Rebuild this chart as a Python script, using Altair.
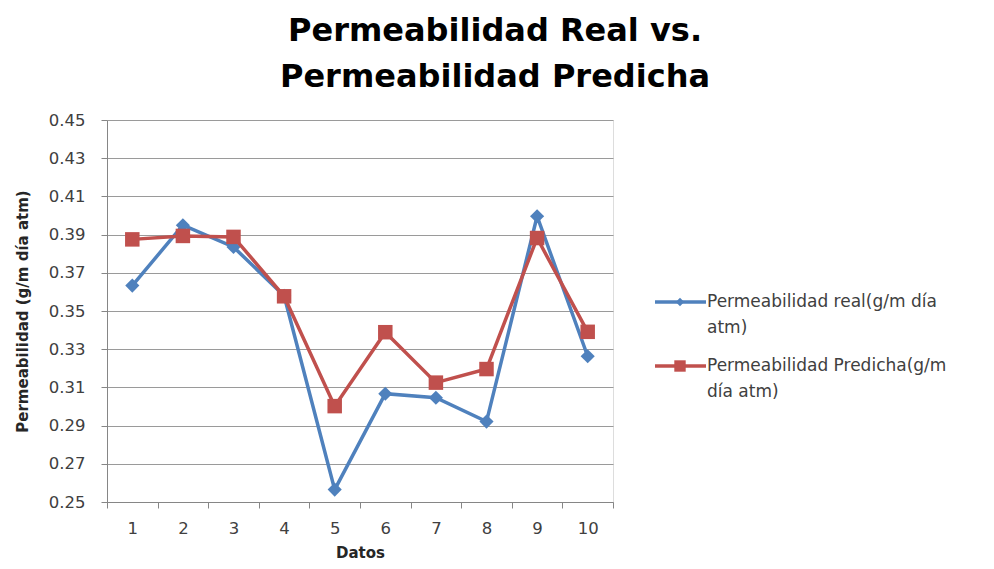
import altair as alt
import pandas as pd

datos = [1, 2, 3, 4, 5, 6, 7, 8, 9, 10]
real = [0.3633, 0.3949, 0.3835, 0.3580, 0.2565, 0.3067, 0.3046, 0.2921, 0.3996, 0.3263]
predicha = [0.3875, 0.3893, 0.3888, 0.3577, 0.3002, 0.3389, 0.3125, 0.3196, 0.3882, 0.3391]
series = ["Permeabilidad real(g/m día atm)", "Permeabilidad Predicha(g/m día atm)"]
legend_labels = [["Permeabilidad real(g/m día", "atm)"], ["Permeabilidad Predicha(g/m", "día atm)"]]
y_ticks = [0.25, 0.27, 0.29, 0.31, 0.33, 0.35, 0.37, 0.39, 0.41, 0.43, 0.45]
colors = ["#4F81BD", "#C0504D"]
shapes = ["diamond", "square"]

rows = []
for d, r, p in zip(datos, real, predicha):
    rows.append({"dato": d, "serie": series[0], "valor": r})
    rows.append({"dato": d, "serie": series[1], "valor": p})
df = pd.DataFrame(rows)

FONT = "DejaVu Sans"
GREY = "#868686"

x_enc = alt.X(
    "dato:O",
    bandPosition=0.5,
    scale=alt.Scale(type="band", paddingInner=0, paddingOuter=0),
    axis=alt.Axis(
        title="Datos", labelAngle=0, tickBand="extent", grid=False,
        labelFontSize=16.5, labelColor="#404040", labelPadding=12, labelFont=FONT,
        titleFontSize=15, titleFont=FONT, titleFontWeight="bold", titleColor="#262626",
        titleBaseline="alphabetic", titlePadding=21,
        tickSize=6, domainColor=GREY, tickColor=GREY,
    ),
)
y_enc = alt.Y(
    "valor:Q",
    scale=alt.Scale(domain=[0.25, 0.45], nice=False, zero=False),
    axis=alt.Axis(
        title="Permeabilidad  (g/m día atm)", values=y_ticks, format=".2f",
        labelFontSize=16.5, labelColor="#404040", labelPadding=16, labelFont=FONT,
        titleFontSize=15, titleFont=FONT, titleFontWeight="bold", titleColor="#262626",
        titlePadding=18, tickSize=6, domainColor=GREY, tickColor=GREY,
        grid=True, gridColor="#9a9a9a", gridWidth=1.2,
    ),
)

base = alt.Chart(df).encode(x=x_enc, y=y_enc)

layers = []
sizes = [200, 210]
for s, c, sh, sz in zip(series, colors, shapes, sizes):
    sub = base.transform_filter(alt.datum.serie == s)
    layers.append(sub.mark_line(color=c, strokeWidth=3.5))
    layers.append(sub.mark_point(shape=sh, filled=True, size=sz, color=c, opacity=1))

# manual legend (line + marker + two-line label)
leg_sizes = [70, 130]
for i, (s, c, sh, lab, lsz) in enumerate(zip(series, colors, shapes, legend_labels, leg_sizes)):
    ly = 182 + 64 * i
    ld = alt.Chart(pd.DataFrame({"serie": [s]}))
    layers.append(ld.mark_rule(color=c, strokeWidth=3.5).encode(
        x=alt.value(548), x2=alt.value(599), y=alt.value(ly)))
    layers.append(ld.mark_point(shape=sh, filled=True, size=lsz, color=c, opacity=1).encode(
        x=alt.value(573), y=alt.value(ly)))
    layers.append(ld.mark_text(
        text=lab, align="left", baseline="middle", lineHeight=26,
        font=FONT, fontSize=17, color="#404040").encode(
        x=alt.value(600), y=alt.value(ly)))

chart = alt.layer(*layers).properties(
    width=506,
    height=382,
    title=alt.TitleParams(
        text=["Permeabilidad Real vs.", "Permeabilidad Predicha"],
        font=FONT, fontSize=32, fontWeight="bold", color="#000000",
        anchor="middle", frame="group", dx=135, dy=38, lineHeight=46,
        baseline="bottom", offset=24,
    ),
    autosize=alt.AutoSizeParams(type="none"),
    padding={"left": 99, "top": 112, "right": 350, "bottom": 59},
).configure_view(stroke=None).configure(background="#ffffff")

chart.save("out.html", embed_options={"renderer": "svg", "actions": False})
